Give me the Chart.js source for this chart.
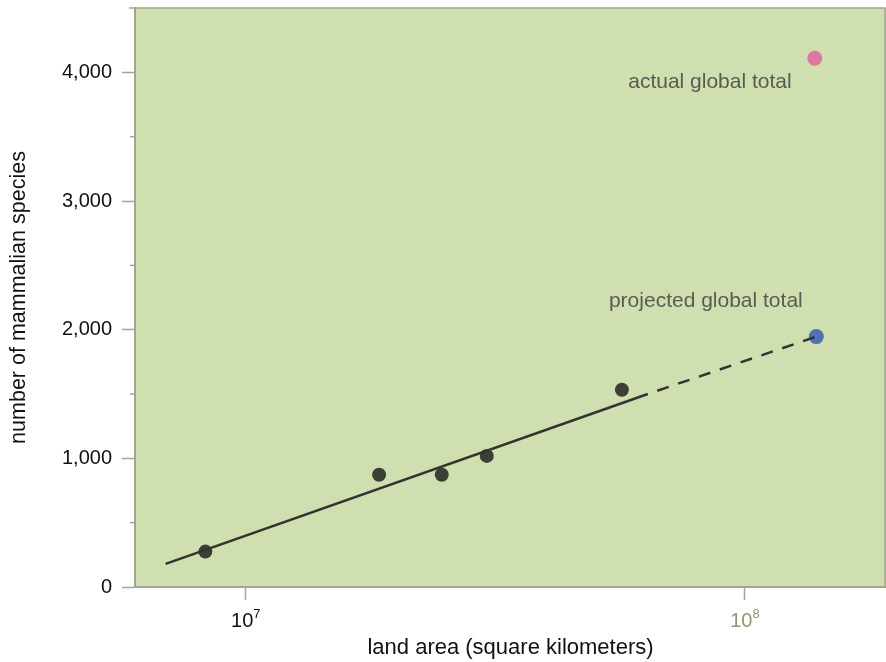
<!DOCTYPE html>
<html>
<head>
<meta charset="utf-8">
<script src="https://cdn.jsdelivr.net/npm/chart.js@4.4.0/dist/chart.umd.min.js"></script>
<style>
  html, body { margin: 0; padding: 0; background: #fff; overflow: hidden; }
  #wrap { width: 886px; height: 662px; }
</style>
</head>
<body>
<div id="wrap"><canvas id="speciesChart"></canvas></div>
<script>
// land area (km^2) vs number of mammalian species
var continentArea = [8.3e6, 1.85e7, 2.47e7, 3.04e7, 5.67e7];
var continentSpecies = [275, 872, 872, 1019, 1533];

var projectedArea = [1.39e8];
var projectedSpecies = [1946];
var actualArea = [1.38e8];
var actualSpecies = [4109];

// fitted line: solid over the data, dashed out to the projection
var fitArea = [6.91e6, 6.39e7];
var fitSpecies = [180, 1500];
var extArea = [6.39e7, 1.39e8];
var extSpecies = [1500, 1946];

var xTickValues = [1e7, 1e8];
var xTickBase = ['10', '10'];
var xTickExp = ['7', '8'];
var xTickColors = ['#111', '#8e9878'];
var yTickValues = [0, 1000, 2000, 3000, 4000];
var yMinorValues = [500, 1500, 2500, 3500];

var noteLabels = ['actual global total', 'projected global total'];
var noteAnchors = [[8.51e7, 3922], [8.35e7, 2218]];

function toPoints(xs, ys) {
    var pts = [];
    xs.forEach(function(x, i) { pts.push({ x: x, y: ys[i] }); });
    return pts;
}

var axisColor = '#a3a690';
var fontFamily = '"Liberation Sans", Arial, Helvetica, sans-serif';

// green plot background plus top/right frame
var plotBackground = {
    id: 'plotBackground',
    beforeDraw: function(chart) {
        var a = chart.chartArea, ctx = chart.ctx;
        ctx.save();
        ctx.fillStyle = '#cfdfb0';
        ctx.fillRect(a.left, a.top, a.right - a.left, a.bottom - a.top);
        ctx.strokeStyle = axisColor;
        ctx.lineWidth = 1.5;
        ctx.beginPath();
        ctx.moveTo(a.left - 6, a.top);
        ctx.lineTo(a.right - 1, a.top);
        ctx.lineTo(a.right - 1, a.bottom);
        ctx.stroke();
        ctx.restore();
    }
};

// short minor ticks on the y axis, and power-of-ten labels on x
var axisExtras = {
    id: 'axisExtras',
    afterDraw: function(chart) {
        var y = chart.scales.y, x = chart.scales.x, ctx = chart.ctx;
        ctx.save();
        ctx.strokeStyle = axisColor;
        ctx.lineWidth = 1.5;
        yMinorValues.forEach(function(v) {
            var py = y.getPixelForValue(v);
            ctx.beginPath();
            ctx.moveTo(y.right - 5, py);
            ctx.lineTo(y.right, py);
            ctx.stroke();
        });

        ctx.textBaseline = 'alphabetic';
        ctx.textAlign = 'left';
        xTickValues.forEach(function(v, i) {
            var px = x.getPixelForValue(v);
            ctx.font = '20px ' + fontFamily;
            var wBase = ctx.measureText(xTickBase[i]).width;
            ctx.font = '13px ' + fontFamily;
            var wExp = ctx.measureText(xTickExp[i]).width;
            var left = px - (wBase + wExp) / 2;
            ctx.fillStyle = xTickColors[i];
            ctx.font = '20px ' + fontFamily;
            ctx.fillText(xTickBase[i], left, x.top + 40);
            ctx.font = '13px ' + fontFamily;
            ctx.fillText(xTickExp[i], left + wBase, x.top + 31);
        });
        ctx.restore();
    }
};

var notes = {
    id: 'notes',
    afterDatasetsDraw: function(chart) {
        var ctx = chart.ctx, xs = chart.scales.x, ys = chart.scales.y;
        ctx.save();
        ctx.font = '21px ' + fontFamily;
        ctx.fillStyle = '#595c51';
        ctx.textAlign = 'center';
        ctx.textBaseline = 'middle';
        noteLabels.forEach(function(t, i) {
            ctx.fillText(t, xs.getPixelForValue(noteAnchors[i][0]), ys.getPixelForValue(noteAnchors[i][1]));
        });
        ctx.restore();
    }
};

var ctx = document.getElementById('speciesChart').getContext('2d');
var chart = new Chart(ctx, {
    type: 'scatter',
    data: {
        datasets: [
            {
                label: 'fit',
                type: 'line',
                data: toPoints(fitArea, fitSpecies),
                borderColor: '#333330',
                borderWidth: 2.5,
                pointRadius: 0,
                fill: false,
            },
            {
                label: 'extension',
                type: 'line',
                data: toPoints(extArea, extSpecies),
                borderColor: '#333330',
                borderWidth: 2.5,
                borderDash: [12, 10],
                borderDashOffset: 12,
                pointRadius: 0,
                fill: false,
            },
            {
                label: 'continents',
                data: toPoints(continentArea, continentSpecies),
                backgroundColor: '#3e3f33',
                borderWidth: 0,
                pointRadius: 7,
            },
            {
                label: 'projected',
                data: toPoints(projectedArea, projectedSpecies),
                backgroundColor: '#4f72b6',
                borderWidth: 0,
                pointRadius: 7.5,
            },
            {
                label: 'actual',
                data: toPoints(actualArea, actualSpecies),
                backgroundColor: '#da78a0',
                borderWidth: 0,
                pointRadius: 7.5,
            },
        ],
    },
    options: {
        responsive: true,
        maintainAspectRatio: false,
        animation: false,
        layout: { autoPadding: false, padding: { top: 8, right: 0, left: 0, bottom: 0 } },
        plugins: {
            legend: { display: false },
            tooltip: { enabled: false },
        },
        scales: {
            x: {
                type: 'logarithmic',
                min: 6.0e6,
                max: 1.917e8,
                afterBuildTicks: function(scale) {
                    scale.ticks = xTickValues.map(function(v) { return { value: v }; });
                },
                afterFit: function(scale) {
                    scale.height = 75;
                    scale.paddingLeft = 0;
                    scale.paddingRight = 0;
                },
                grid: {
                    drawOnChartArea: false,
                    drawTicks: true,
                    tickLength: 13,
                    tickColor: axisColor,
                    tickWidth: 1.5,
                },
                border: { display: true, color: axisColor, width: 2 },
                ticks: { display: false },
                title: {
                    display: true,
                    text: 'land area (square kilometers)',
                    color: '#111',
                    font: { family: fontFamily, size: 22 },
                    padding: { top: 0, bottom: 1 },
                },
            },
            y: {
                min: 0,
                max: 4500,
                afterBuildTicks: function(scale) {
                    scale.ticks = yTickValues.map(function(v) { return { value: v }; });
                },
                afterFit: function(scale) {
                    scale.width = 135;
                    scale.paddingTop = 0;
                    scale.paddingBottom = 0;
                },
                grid: {
                    drawOnChartArea: false,
                    drawTicks: true,
                    tickLength: 13,
                    tickColor: axisColor,
                    tickWidth: 1.5,
                },
                border: { display: true, color: axisColor, width: 2 },
                ticks: {
                    padding: 10,
                    color: '#111',
                    font: { family: fontFamily, size: 20 },
                    callback: function(value) { return value.toLocaleString('en-US'); },
                },
                title: {
                    display: true,
                    text: 'number of mammalian species',
                    color: '#111',
                    font: { family: fontFamily, size: 21.5 },
                    padding: { top: 6, bottom: 0 },
                },
            },
        },
    },
    plugins: [plotBackground, axisExtras, notes],
});
</script>
</body>
</html>
